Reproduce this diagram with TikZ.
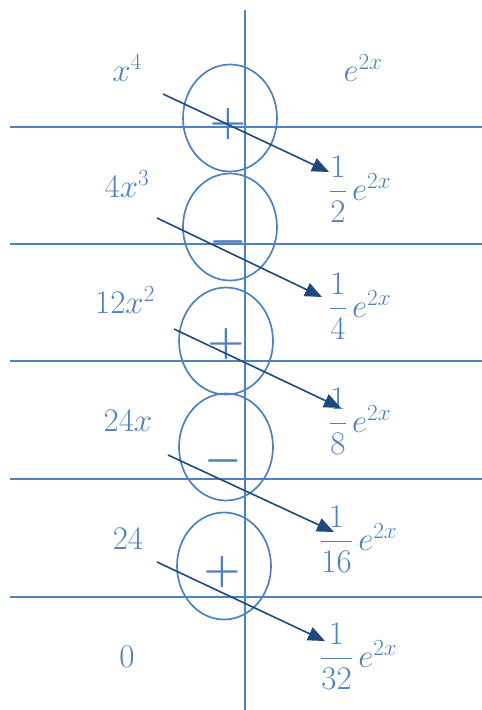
\RequirePackage{fix-cm}
\documentclass[tikz,border=0pt]{standalone}
\usepackage{amsmath}
\usepackage{tikz}
\usetikzlibrary{arrows.meta,shapes.geometric}
\definecolor{tblue}{HTML}{4F81BD}
\definecolor{tnavy}{HTML}{1F497D}

\begin{document}
\begin{tikzpicture}[
      x=1pt, y=-1pt,
      every node/.style={text=tblue, font=\fontsize{33}{36}\selectfont},
      rule/.style={draw=tblue, line width=2pt},
      ring/.style={ellipse, draw=tblue, line width=1.7pt, minimum width=94pt,
                   minimum height=107pt, inner sep=0pt},
      sgn/.style={font=\fontsize{42}{42}\selectfont\boldmath, inner sep=0pt},
      term/.style={anchor=base},
      frac/.style={anchor=base west, inner sep=0pt},
      arr/.style={draw=tnavy, line width=1.6pt, -{Triangle[length=17pt,width=14pt]}}
  ]
    \useasboundingbox (0,0) rectangle (482,710);

    % table rules
    \coordinate (vtop) at (245,10);
    \coordinate (vbot) at (245,710);
    \draw[rule] (vtop) -- (vbot);
    \foreach \y in {127,244,361,479,597}
      \draw[rule] (10,\y) -- (482,\y);

    % sign rings
    \node[ring] (r1) at (230,118) {};
    \node[ring] (r2) at (230,227) {};
    \node[ring] (r3) at (226,341) {};
    \node[ring] (r4) at (226,447) {};
    \node[ring] (r5) at (224,566) {};

    \node[sgn] (g1) at (228,124) {$+$};
    \node[sgn] (g2) at (228,242) {$-$};
    \node[sgn] (g3) at (226,344) {$+$};
    \node[sgn] (g4) at (223,461) {$-$};
    \node[sgn] (g5) at (222,572) {$+$};

    % derivatives
    \node[term] (d0) at (127,81)  {$x^4$};
    \node[term] (d1) at (127,197) {$4x^3$};
    \node[term] (d2) at (125,313) {$12x^2$};
    \node[term] (d3) at (128,431) {$24x$};
    \node[term] (d4) at (128,549) {$24$};
    \node[term] (d5) at (127,667) {$0$};

    % integrals
    \node[term] (i0) at (363,81) {$e^{2x}$};
    \node[frac] (i1) at (329,200) {$\dfrac{1}{2}\,e^{2x}$};
    \node[frac] (i2) at (329,317) {$\dfrac{1}{4}\,e^{2x}$};
    \node[frac] (i3) at (329,432) {$\dfrac{1}{8}\,e^{2x}$};
    \node[frac] (i4) at (320,550) {$\dfrac{1}{16}\,e^{2x}$};
    \node[frac] (i5) at (320,667) {$\dfrac{1}{32}\,e^{2x}$};

    % diagonal arrows
    \coordinate (s1) at (163,94);  \coordinate (t1) at (329,172);
    \coordinate (s2) at (157,218); \coordinate (t2) at (322,297);
    \coordinate (s3) at (174,329); \coordinate (t3) at (341,408);
    \coordinate (s4) at (168,455); \coordinate (t4) at (334,532);
    \coordinate (s5) at (157,562); \coordinate (t5) at (325,641);
    \draw[arr] (s1) -- (t1);
    \draw[arr] (s2) -- (t2);
    \draw[arr] (s3) -- (t3);
    \draw[arr] (s4) -- (t4);
    \draw[arr] (s5) -- (t5);
  \end{tikzpicture}
\end{document}
